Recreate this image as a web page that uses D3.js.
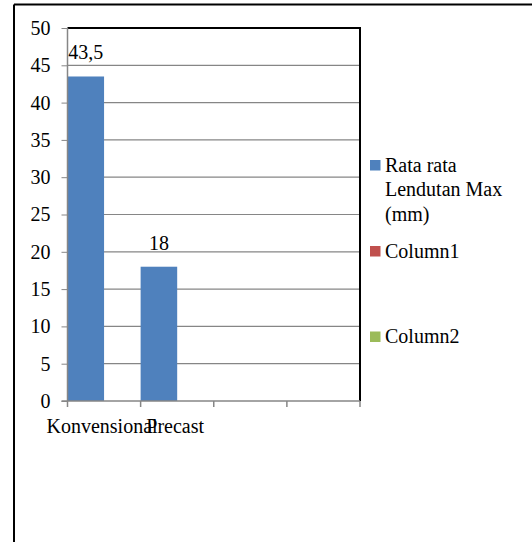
<!DOCTYPE html>
<html>
<head>
<meta charset="utf-8">
<script src="https://cdn.jsdelivr.net/npm/d3@7"></script>
<style>
  html, body { margin: 0; padding: 0; background: #fff; }
  svg { display: block; }
</style>
</head>
<body>
<svg id="chart" width="532" height="542"></svg>
<script>
// Category slots on the x axis (the last two are empty)
const categories = ["Konvensional", "Precast", "", ""];
// Average maximum deflection (mm)
const lendutanValues = [43.5, 18, null, null];
const valueLabels = ["43,5", "18", "", ""];
// Legend entries
const seriesNames = ["Rata rata Lendutan Max (mm)", "Column1", "Column2"];
const seriesColors = ["#4F81BD", "#C0504D", "#9BBB59"];
// Y axis ticks
const yTicks = [0, 5, 10, 15, 20, 25, 30, 35, 40, 45, 50];

const svg = d3.select("#chart");
const plot = { left: 67.5, right: 360, top: 28, bottom: 401 };
const fontSize = "20px";
const serif = "Liberation Serif";

function styleText(sel) {
  return sel.style("font-family", serif).style("font-size", fontSize).attr("fill", "#000");
}

// outer frame (top and left edges)
svg.append("line").attr("x1", 14).attr("x2", 532).attr("y1", 4.5).attr("y2", 4.5)
  .attr("stroke", "#000").attr("stroke-width", 2);
svg.append("line").attr("x1", 14).attr("x2", 14).attr("y1", 4.5).attr("y2", 542)
  .attr("stroke", "#000").attr("stroke-width", 2);

const x = d3.scaleBand().domain(d3.range(categories.length))
  .range([plot.left, plot.right]).padding(0);
const y = d3.scaleLinear().domain([0, 50]).range([plot.bottom, plot.top]);

// left tick marks and labels
const yAxis = d3.axisLeft(y).tickValues(yTicks).tickSize(6).tickPadding(11)
  .tickFormat(d3.format("d"));
const gy = svg.append("g").attr("transform", `translate(${plot.left},0)`).call(yAxis);
gy.select(".domain").remove();
gy.selectAll(".tick line").attr("stroke", "#868686");
styleText(gy.selectAll(".tick text"));

// horizontal gridlines
svg.append("g").selectAll("line").data(yTicks.filter(d => d > 0 && d < 50)).join("line")
  .attr("x1", plot.left).attr("x2", plot.right)
  .attr("y1", d => y(d)).attr("y2", d => y(d))
  .attr("stroke", "#868686").attr("stroke-width", 1.2);

// plot area border (top and right)
svg.append("polyline")
  .attr("points", `${plot.left},${plot.top} ${plot.right},${plot.top} ${plot.right},${plot.bottom}`)
  .attr("fill", "none").attr("stroke", "#000").attr("stroke-width", 2);

// bars: first series of a three-series cluster
const barW = x.bandwidth() / 2;
const barData = lendutanValues.map((v, i) => ({ v, i })).filter(d => d.v != null);
svg.append("g").selectAll("rect").data(barData).join("rect")
  .attr("x", d => x(d.i)).attr("width", barW)
  .attr("y", d => y(d.v)).attr("height", d => y(0) - y(d.v))
  .attr("fill", seriesColors[0]);

// value labels
styleText(svg.append("g").selectAll("text").data(barData).join("text")
  .attr("x", d => x(d.i) + barW / 2).attr("y", d => y(d.v) - 17)
  .attr("text-anchor", "middle")
  .text(d => valueLabels[d.i]));

// axis lines
svg.append("line").attr("x1", plot.left).attr("x2", plot.left)
  .attr("y1", plot.top).attr("y2", plot.bottom).attr("stroke", "#868686").attr("stroke-width", 1.5);
const xAxis = d3.axisBottom(x).tickSize(0).tickFormat(i => categories[i]).tickPadding(18);
const gx = svg.append("g").attr("transform", `translate(-2,${plot.bottom})`).call(xAxis);
gx.select(".domain").remove();
styleText(gx.selectAll(".tick text")).attr("dy", "0.71em");
svg.append("line").attr("x1", plot.left - 6).attr("x2", plot.right)
  .attr("y1", plot.bottom).attr("y2", plot.bottom).attr("stroke", "#868686").attr("stroke-width", 1.5);
// category boundary ticks
const bounds = d3.range(categories.length + 1).map(i => plot.left + i * x.step());
svg.append("g").selectAll("line").data(bounds).join("line")
  .attr("x1", d => d).attr("x2", d => d)
  .attr("y1", plot.bottom).attr("y2", plot.bottom + 6)
  .attr("stroke", "#868686").attr("stroke-width", 1.5);

// legend
const legendRows = [
  { lines: ["Rata rata", "Lendutan Max", "(mm)"], color: seriesColors[0], base: 171.5 },
  { lines: [seriesNames[1]], color: seriesColors[1], base: 257.5 },
  { lines: [seriesNames[2]], color: seriesColors[2], base: 343 }
];
const lg = svg.append("g");
legendRows.forEach(r => {
  lg.append("rect").attr("x", 370).attr("y", r.base - 11.5).attr("width", 10.5).attr("height", 10.5)
    .attr("fill", r.color);
  const t = styleText(lg.append("text").attr("x", 385).attr("y", r.base));
  r.lines.forEach((ln, k) => {
    t.append("tspan").attr("x", 385).attr("dy", k === 0 ? 0 : 24.5).text(ln);
  });
});
</script>
</body>
</html>
